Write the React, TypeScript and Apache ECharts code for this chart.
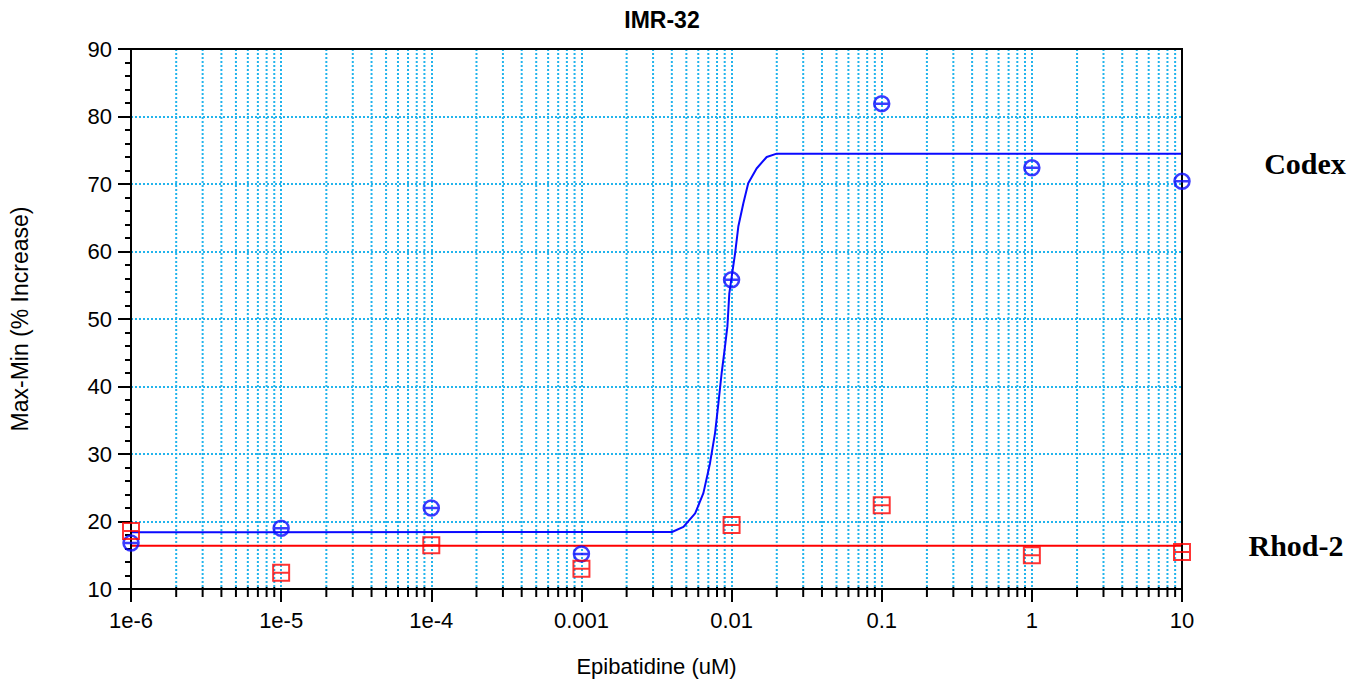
import React, { useEffect, useRef } from "react";
import * as echarts from "echarts";

// ---- data ----
const concentrations = [1e-6, 1e-5, 1e-4, 1e-3, 1e-2, 1e-1, 1, 10];
const codexValues = [16.8, 19.0, 22.0, 15.2, 55.8, 81.9, 72.4, 70.4];
const rhodValues = [18.6, 12.4, 16.5, 13.0, 19.5, 22.4, 15.0, 15.5];

// fitted curve (Codex)
const codexFitX = [1e-6, 0.00401, 0.00478, 0.00572, 0.00649, 0.00718, 0.00776, 0.00817, 0.00859, 0.00904, 0.00938, 0.00966, 0.01055, 0.01109, 0.01197, 0.01291, 0.01468, 0.01714, 0.02, 10];
const codexFitY = [18.4, 18.44, 19.2, 21.2, 24.2, 28.6, 33.1, 37.5, 42.0, 45.9, 48.9, 53.8, 59.7, 63.7, 67.1, 70.1, 72.3, 74.0, 74.5, 74.5];

// fitted line (Rhod-2)
const rhodFitX = [1e-6, 10];
const rhodFitY = [16.4, 16.4];

// axis ticks
const xTickLabels = ["1e-6", "1e-5", "1e-4", "0.001", "0.01", "0.1", "1", "10"];
const xMinExp = -6;
const xMaxExp = 1;
const yMin = 10;
const yMax = 90;
const yInterval = 10;

const minorTickValues: number[] = [];
for (let e = xMinExp; e < xMaxExp; e++) {
  for (let m = 2; m <= 9; m++) minorTickValues.push(m * Math.pow(10, e));
}

const GRID_COLOR = "#22b4ec";
const BLUE = "#0a0aff";
const RED = "#ff0000";
const SANS = "'Liberation Sans', Arial, sans-serif";
const SERIF = "'Liberation Serif', 'Times New Roman', serif";

const circleSym = "path://M0,8 A8,8 0 1 1 16,8 A8,8 0 1 1 0,8 Z M0,8 L16,8";
const squareSym = "path://M0,0 L16,0 L16,16 L0,16 Z M0,8 L16,8";

export default function App() {
  const ref = useRef<HTMLDivElement>(null);

  useEffect(() => {
    if (!ref.current) return;
    const chart = echarts.init(ref.current, undefined, { renderer: "svg" });

    const option: any = {
      animation: false,
      backgroundColor: "#ffffff",
      grid: {
        left: 131,
        right: 175,
        top: 49,
        bottom: 96,
        show: true,
        borderColor: "#000",
        borderWidth: 2,
        backgroundColor: "transparent",
        z: 10,
      },
      graphic: [
        {
          type: "text",
          x: 662,
          y: 20,
          style: {
            text: "IMR-32",
            font: `bold 23px ${SANS}`,
            fill: "#000",
            textAlign: "center",
            textVerticalAlign: "middle",
          },
        },
        {
          type: "text",
          x: 1305,
          y: 163,
          style: {
            text: "Codex",
            font: `bold 30px ${SERIF}`,
            fill: "#000",
            textAlign: "center",
            textVerticalAlign: "middle",
          },
        },
        {
          type: "text",
          x: 1296,
          y: 545,
          style: {
            text: "Rhod-2",
            font: `bold 30px ${SERIF}`,
            fill: "#000",
            textAlign: "center",
            textVerticalAlign: "middle",
          },
        },
      ],
      xAxis: {
        type: "log",
        logBase: 10,
        min: Math.pow(10, xMinExp),
        max: Math.pow(10, xMaxExp),
        interval: 1,
        name: "Epibatidine (uM)",
        nameLocation: "middle",
        nameGap: 66,
        nameTextStyle: { fontFamily: SANS, fontSize: 22, color: "#000" },
        axisLine: { show: true, lineStyle: { color: "#000", width: 2 } },
        axisTick: { show: true, length: 13, lineStyle: { color: "#000", width: 2 } },
        axisLabel: {
          margin: 20,
          fontFamily: SANS,
          fontSize: 22,
          color: "#000",
          formatter: (v: number) => {
            const e = Math.round(Math.log10(v));
            return xTickLabels[e - xMinExp] ?? "";
          },
        },
        splitLine: { show: true, lineStyle: { color: GRID_COLOR, width: 2, type: [2, 2] } },
        minorTick: { show: false },
        minorSplitLine: { show: false },
      },
      yAxis: {
        type: "value",
        min: yMin,
        max: yMax,
        interval: yInterval,
        name: "Max-Min (% Increase)",
        nameLocation: "middle",
        nameGap: 100,
        nameTextStyle: { fontFamily: SANS, fontSize: 23, color: "#000" },
        axisLine: { show: true, lineStyle: { color: "#000", width: 2 } },
        axisTick: { show: true, length: 13, lineStyle: { color: "#000", width: 2 } },
        minorTick: { show: true, splitNumber: 5, length: 6, lineStyle: { color: "#000", width: 2 } },
        axisLabel: { margin: 19, fontFamily: SANS, fontSize: 22, color: "#000" },
        splitLine: { show: true, lineStyle: { color: GRID_COLOR, width: 2, type: [2, 2] } },
      },
      series: [
        {
          type: "custom",
          coordinateSystem: "cartesian2d",
          clip: false,
          silent: true,
          z: 1,
          data: minorTickValues.map((v) => [v, yMin]),
          renderItem: (params: any, api: any) => {
            const cs = params.coordSys;
            const x = api.coord([api.value(0), api.value(1)])[0];
            const top = cs.y;
            const bottom = cs.y + cs.height;
            return {
              type: "group",
              children: [
                {
                  type: "line",
                  shape: { x1: x, y1: top, x2: x, y2: bottom },
                  style: { stroke: GRID_COLOR, lineWidth: 2, lineDash: [2, 2] },
                },
                {
                  type: "line",
                  shape: { x1: x, y1: bottom - 2, x2: x, y2: bottom + 8 },
                  style: { stroke: "#000", lineWidth: 2 },
                },
              ],
            };
          },
        },
        {
          name: "Codex fit",
          type: "line",
          data: codexFitX.map((x, i) => [x, codexFitY[i]]),
          showSymbol: false,
          symbol: "none",
          lineStyle: { color: BLUE, width: 2 },
          z: 3,
        },
        {
          name: "Rhod-2 fit",
          type: "line",
          data: rhodFitX.map((x, i) => [x, rhodFitY[i]]),
          showSymbol: false,
          symbol: "none",
          lineStyle: { color: RED, width: 2 },
          z: 3,
        },
        {
          name: "Codex",
          type: "scatter",
          data: concentrations.map((x, i) => [x, codexValues[i]]),
          symbol: circleSym,
          symbolSize: 15,
          clip: false,
          itemStyle: { color: "rgba(0,0,0,0)", borderColor: BLUE, borderWidth: 2.5 },
          z: 12,
        },
        {
          name: "Rhod-2",
          type: "scatter",
          data: concentrations.map((x, i) => [x, rhodValues[i]]),
          symbol: squareSym,
          symbolSize: 16,
          clip: false,
          itemStyle: { color: "rgba(0,0,0,0)", borderColor: RED, borderWidth: 2 },
          z: 13,
        },
      ],
    };

    chart.setOption(option);
    return () => chart.dispose();
  }, []);

  return (
    <div
      ref={ref}
      style={{ position: "absolute", left: 0, top: 0, width: 1357, height: 685, background: "#fff" }}
    />
  );
}
